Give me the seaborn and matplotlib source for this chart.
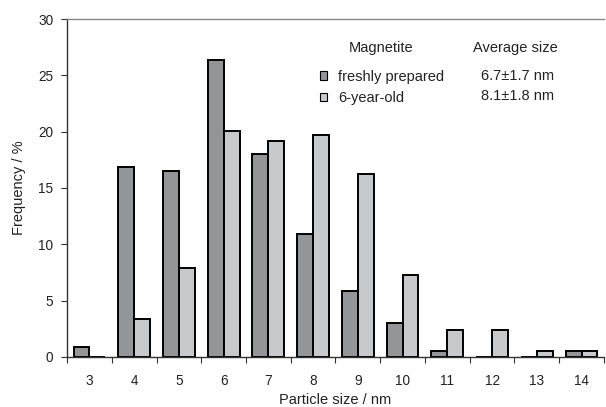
import matplotlib
matplotlib.use("Agg")
import matplotlib.pyplot as plt
import seaborn as sns
import pandas as pd

sizes = ["3", "4", "5", "6", "7", "8", "9", "10", "11", "12", "13", "14"]
fresh = [0.9, 16.9, 16.5, 26.4, 18.0, 10.95, 5.9, 3.0, 0.5, 0.0, 0.0, 0.5]
old = [0.0, 3.4, 7.9, 20.1, 19.2, 19.7, 16.2, 7.3, 2.4, 2.4, 0.5, 0.5]
series = ["freshly prepared", "6-year-old"]
averages = ["6.7\u00b11.7 nm", "8.1\u00b11.8 nm"]

df = pd.DataFrame({
    "size": sizes * 2,
    "freq": fresh + old,
    "sample": [series[0]] * len(sizes) + [series[1]] * len(sizes),
})

sns.set_style("ticks")
plt.rcParams["font.family"] = ["Liberation Sans", "DejaVu Sans"]

TXT = "#222222"
fig = plt.figure(figsize=(6.06, 4.07), dpi=100)
ax = fig.add_axes([0.1106, 0.1229, 0.886, 0.8304])

colors = {series[0]: "#939598", series[1]: "#c8c9cb"}
sns.barplot(data=df, x="size", y="freq", hue="sample", order=sizes,
            hue_order=series, palette=colors, width=0.71, gap=0,
            edgecolor="black", linewidth=1.4, ax=ax, legend=True)

ax.set_xlim(-0.5, len(sizes) - 0.5)
ax.set_ylim(0, 30)
ax.set_yticks([0, 5, 10, 15, 20, 25, 30])
ax.tick_params(axis="x", which="major", length=0, labelsize=9.8, pad=12, colors=TXT)
ax.set_xticks([i - 0.5 for i in range(len(sizes) + 1)], minor=True)
ax.tick_params(axis="x", which="minor", length=4, width=0.8, color="#333333")
ax.tick_params(axis="y", length=4, width=0.8, labelsize=9.8, pad=6,
               color="#333333", labelcolor=TXT)
ax.set_xlabel("Particle size / nm", fontsize=10.5, color=TXT, labelpad=4)
ax.set_ylabel("Frequency / %", fontsize=10.5, color=TXT, labelpad=9)

for s in ["left", "bottom"]:
    ax.spines[s].set_color("#333333")
    ax.spines[s].set_linewidth(1.0)
ax.spines["top"].set_color("#888888")
ax.spines["top"].set_linewidth(1.0)
ax.spines["right"].set_visible(False)

handles, labels = ax.get_legend_handles_labels()
for h in handles:
    h.set_linewidth(0.8)
leg = ax.legend(handles, labels, loc="upper left", bbox_to_anchor=(0.471, 0.850),
                frameon=False, fontsize=10.5, handlelength=0.5, handleheight=0.5,
                handletextpad=0.75, labelspacing=0.5, borderaxespad=0, borderpad=0)
for t in leg.get_texts():
    t.set_color(TXT)

fig.text(381 / 606, 1 - 48 / 407, "Magnetite", ha="center", va="center", fontsize=10.5, color=TXT)
fig.text(515 / 606, 1 - 48 / 407, "Average size", ha="center", va="center", fontsize=10.5, color=TXT)
fig.text(518 / 606, 1 - 76 / 407, averages[0], ha="center", va="center", fontsize=10.5, color=TXT)
fig.text(518 / 606, 1 - 96 / 407, averages[1], ha="center", va="center", fontsize=10.5, color=TXT)

fig.savefig("out.png", dpi=100)
